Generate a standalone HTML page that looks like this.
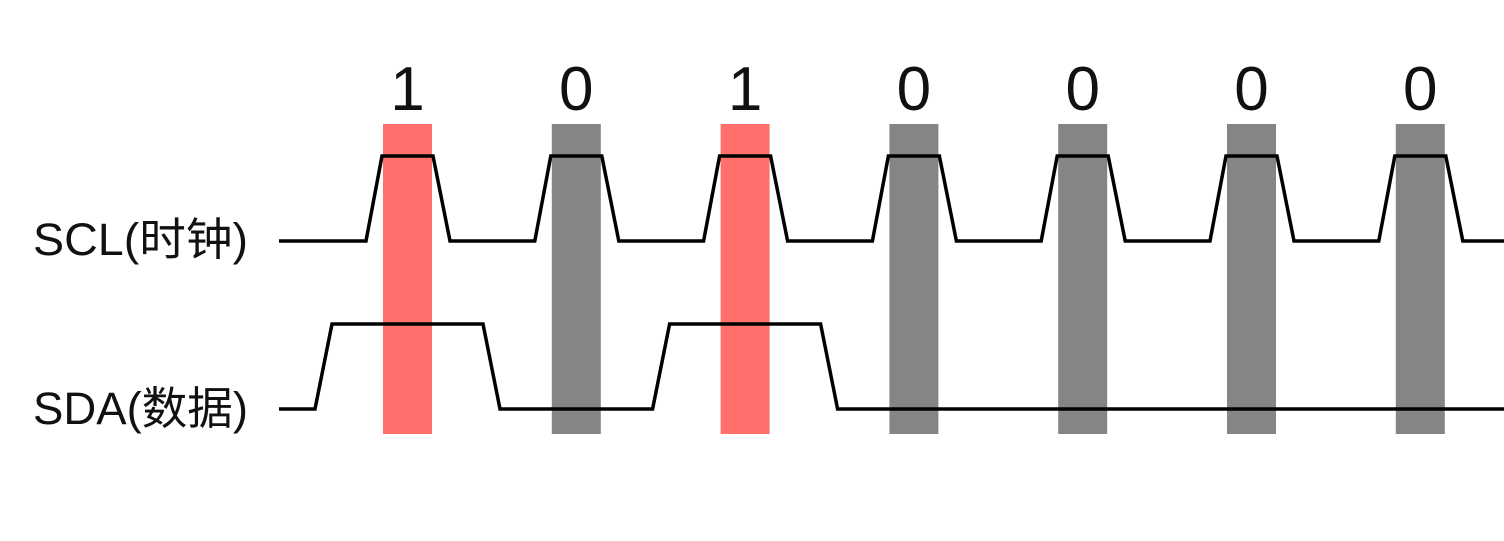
<!DOCTYPE html>
<html><head><meta charset="utf-8">
<style>
html,body{margin:0;padding:0;background:#fff;}
svg{display:block;}
text{font-family:"Liberation Sans","Noto Sans CJK SC",sans-serif;fill:#111;}
</style></head>
<body>
<svg id="chart" width="1504" height="541" viewBox="0 0 1504 541" xmlns="http://www.w3.org/2000/svg">
  <g id="bars"></g>
  <g id="labels"></g>
  <text x="33" y="255" font-size="45" textLength="215" lengthAdjust="spacingAndGlyphs">SCL(时钟)</text>
  <text x="33" y="424" font-size="45" textLength="215" lengthAdjust="spacingAndGlyphs">SDA(数据)</text>
  <path id="scl" fill="none" stroke="#000" stroke-width="3.5" stroke-linejoin="miter"></path>
  <path id="sda" fill="none" stroke="#000" stroke-width="3.5" stroke-linejoin="miter"></path>
</svg>
<script>
const bits = [1, 0, 1, 0, 0, 0, 0];
const bitLabels = ["1", "0", "1", "0", "0", "0", "0"];
const sdaLevels = [1, 0, 1, 0, 0, 0, 0];

const ns = "http://www.w3.org/2000/svg";
const x0 = 383, pitch = 168.8, bw = 49;
function bitX(i){ return x0 + i * pitch; }
const sclLow = 241, sclHigh = 156, sdaLow = 409, sdaHigh = 324;

const barsG = document.getElementById('bars');
const labelsG = document.getElementById('labels');
bits.forEach((b, i) => {
  const r = document.createElementNS(ns, 'rect');
  r.setAttribute('x', bitX(i)); r.setAttribute('y', 124);
  r.setAttribute('width', bw); r.setAttribute('height', 310);
  r.setAttribute('fill', b ? '#ff6f6b' : '#858585');
  
  
  barsG.appendChild(r);
  const t = document.createElementNS(ns, 'text');
  t.setAttribute('x', bitX(i) + bw / 2); t.setAttribute('y', 110);
  t.setAttribute('font-size', '62'); t.setAttribute('text-anchor', 'middle');
  t.textContent = bitLabels[i];
  
  
  labelsG.appendChild(t);
});

// SCL
let d = 'M279 ' + sclLow;
bits.forEach((b, i) => {
  const x = bitX(i);
  d += ' L' + (x - 17) + ' ' + sclLow + ' L' + (x - 1) + ' ' + sclHigh +
       ' L' + (x + bw + 1) + ' ' + sclHigh + ' L' + (x + bw + 18) + ' ' + sclLow;
});
d += ' L1504 ' + sclLow;
document.getElementById('scl').setAttribute('d', d);

// SDA
let cur = 0;
let s = 'M279 ' + sdaLow;
sdaLevels.forEach((v, i) => {
  const x = bitX(i);
  if (v !== cur) {
    const ya = cur ? sdaHigh : sdaLow, yb = v ? sdaHigh : sdaLow;
    s += ' L' + (x - 68) + ' ' + ya + ' L' + (x - 51) + ' ' + yb;
    cur = v;
  }
  const next = i + 1 < sdaLevels.length ? sdaLevels[i + 1] : v;
  if (cur && !next) {
    s += ' L' + (x + bw + 51) + ' ' + sdaHigh + ' L' + (x + bw + 68) + ' ' + sdaLow;
    cur = 0;
  }
});
s += ' L1504 ' + (cur ? sdaHigh : sdaLow);
document.getElementById('sda').setAttribute('d', s);
</script>
</body></html>
